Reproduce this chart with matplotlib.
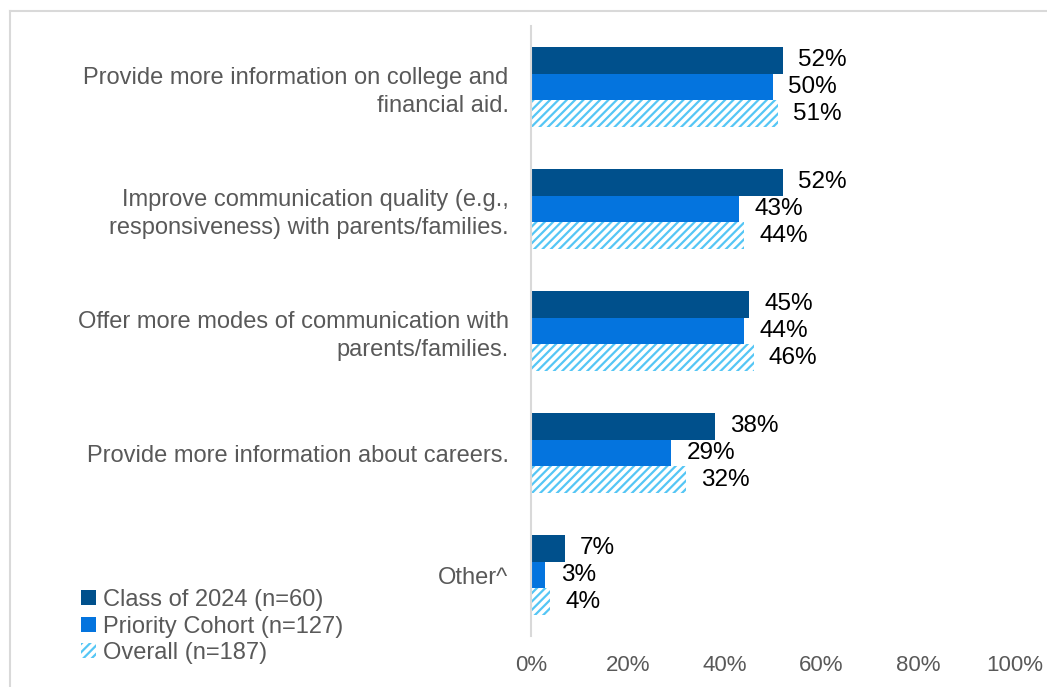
import matplotlib.pyplot as plt
import numpy as np
from matplotlib.lines import Line2D
from matplotlib.patches import Patch

plt.rcParams['font.family'] = ['Liberation Sans', 'DejaVu Sans']
plt.rcParams['hatch.linewidth'] = 1.6

categories = ['Provide more information on college and\nfinancial aid.',
              'Improve communication quality (e.g.,\nresponsiveness) with parents/families.',
              'Offer more modes of communication with\nparents/families.',
              'Provide more information about careers.',
              'Other^']
class_2024 = [52, 52, 45, 38, 7]
priority = [50, 43, 44, 29, 3]
overall = [51, 44, 46, 32, 4]
series_names = ['Class of 2024 (n=60)', 'Priority Cohort (n=127)', 'Overall (n=187)']
xticks = [0, 20, 40, 60, 80, 100]

dark = '#00508C'
mid = '#0474DE'
light = '#55C6F5'
gray = '#595959'

fig = plt.figure(figsize=(10.47, 6.87), dpi=100)
ax = fig.add_axes([0.507, 0.0742, 0.4625, 0.888])

y = np.arange(len(categories))
h = 0.22
b1 = ax.barh(y - h, class_2024, height=h, color=dark, linewidth=0)
b2 = ax.barh(y, priority, height=h, color=mid, linewidth=0)
b3 = ax.barh(y + h, overall, height=h, color='white', edgecolor=light,
             hatch='////', linewidth=0)

for bars, vals in [(b1, class_2024), (b2, priority), (b3, overall)]:
    ax.bar_label(bars, labels=['%d%%' % v for v in vals], padding=11,
                 fontsize=17.5, color='black')

ax.set_ylim(len(categories) - 0.5, -0.5)
ax.set_xlim(0, 100)
ax.set_yticks(y)
ax.set_yticklabels(categories, fontsize=17, color=gray, linespacing=1.3)
ax.tick_params(axis='y', length=0, pad=16)
ax.set_xticks(xticks)
ax.set_xticklabels(['%d%%' % t for t in xticks], fontsize=16, color=gray)
ax.tick_params(axis='x', length=0, pad=14)
for s in ['top', 'right', 'bottom']:
    ax.spines[s].set_visible(False)
ax.spines['left'].set_color('#D9D9D9')
ax.spines['left'].set_linewidth(1.5)

handles = [Patch(facecolor=dark, linewidth=0),
           Patch(facecolor=mid, linewidth=0),
           Patch(facecolor='white', edgecolor=light, hatch='////', linewidth=0)]
fig.legend(handles, series_names, loc='lower left', bbox_to_anchor=(0.062, 0.009),
           frameon=False, fontsize=17, labelcolor=gray, handlelength=0.6,
           handleheight=0.6, handletextpad=0.3, labelspacing=0.2,
           borderaxespad=0.3)

# outer frame (top and left edges visible)
fig.add_artist(Line2D([0.0096, 1.0], [1 - 11 / 687, 1 - 11 / 687], color='#D9D9D9', lw=1.5))
fig.add_artist(Line2D([0.0096, 0.0096], [0.0, 1 - 11 / 687], color='#D9D9D9', lw=1.5))

fig.savefig('out.png', dpi=100)
